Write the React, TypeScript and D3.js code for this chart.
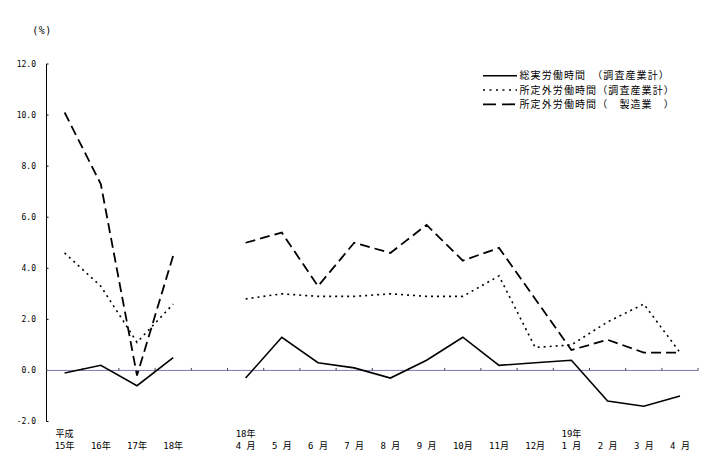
import React from "react";
import * as d3 from "d3";

const categories = ["15年", "16年", "17年", "18年", "", "4月", "5月", "6月", "7月", "8月", "9月", "10月", "11月", "12月", "1月", "2月", "3月", "4月"];
const labelTop = ["平成", "", "", "", "", "18年", "", "", "", "", "", "", "", "", "19年", "", "", ""];
const labelBottom = ["15年", "16年", "17年", "18年", "", "4 月", "5 月", "6 月", "7 月", "8 月", "9 月", "10月", "11月", "12月", "1 月", "2 月", "3 月", "4 月"];
const totalHours: (number | null)[] = [-0.1, 0.2, -0.6, 0.5, null, -0.3, 1.3, 0.3, 0.1, -0.3, 0.4, 1.3, 0.2, 0.3, 0.4, -1.2, -1.4, -1.0];
const overtimeAll: (number | null)[] = [4.6, 3.3, 1.1, 2.6, null, 2.8, 3.0, 2.9, 2.9, 3.0, 2.9, 2.9, 3.7, 0.9, 1.0, 1.9, 2.6, 0.7];
const overtimeMfg: (number | null)[] = [10.1, 7.3, -0.2, 4.5, null, 5.0, 5.4, 3.3, 5.0, 4.6, 5.7, 4.3, 4.8, 2.8, 0.8, 1.2, 0.7, 0.7];
const yTicks = [-2, 0, 2, 4, 6, 8, 10, 12];
const legendLabels = ["総実労働時間　（調査産業計）", "所定外労働時間（調査産業計）", "所定外労働時間（　製造業　）"];

const W = 719;
const H = 465;
const left = 46.5;
const right = 698.1;
const fontMono = "'DejaVu Sans Mono', 'Liberation Mono', 'Noto Sans CJK JP', monospace";
const fontCJK = "'Noto Sans CJK JP', 'DejaVu Sans', sans-serif";

export default function App() {
  const x = d3.scaleBand<number>().domain(categories.map((_, i) => i)).range([left, right]).paddingInner(0).paddingOuter(0);
  const y = d3.scaleLinear().domain([-2, 12]).range([421.5, 64]);
  const cx = (i: number) => (x(i) ?? 0) + x.bandwidth() / 2;
  const line = d3
    .line<number | null>()
    .defined((d) => d !== null)
    .x((_, i) => cx(i))
    .y((d) => y(d as number));

  const series = [
    { data: totalHours, dash: "", width: 1.6 },
    { data: overtimeAll, dash: "2,4", width: 1.6 },
    { data: overtimeMfg, dash: "10,5", width: 1.8 },
  ];
  const y0 = y(0);

  return (
    <svg width={W} height={H} style={{ position: "absolute", left: 0, top: 0, background: "#fff" }}>
      <text x={42} y={33.5} fontSize={10} letterSpacing={0.5} fontFamily={fontMono} textAnchor="middle" fill="#000">(%)</text>
      {/* y axis */}
      <line x1={left} x2={left} y1={y(12)} y2={y(-2)} stroke="#000" strokeWidth={1} />
      {yTicks.map((t) => (
        <g key={t}>
          <line x1={left} x2={left + 2} y1={y(t)} y2={y(t)} stroke="#000" />
          <text x={36} y={y(t)} dy="0.35em" fontSize={8} fontFamily={fontMono} textAnchor="end" fill="#000">
            {t.toFixed(1)}
          </text>
        </g>
      ))}
      {/* zero line */}
      <line x1={left} x2={right} y1={y0} y2={y0} stroke="#7c7cb0" strokeWidth={1} />
      {categories.map((_, i) => (
        <line key={i} x1={(x(i) ?? 0) + x.bandwidth()} x2={(x(i) ?? 0) + x.bandwidth()} y1={y0} y2={y0 - 2.5} stroke="#444" strokeWidth={1} />
      ))}
      {/* lines */}
      {series.map((s, k) => (
        <path key={k} d={line(s.data) ?? ""} fill="none" stroke="#000" strokeWidth={s.width} strokeDasharray={s.dash || undefined} />
      ))}
      {/* x labels */}
      {categories.map((_, i) => (
        <g key={i}>
          {labelTop[i] && (
            <text x={cx(i)} y={437} fontSize={9} fontFamily={fontMono} textAnchor="middle" fill="#000">{labelTop[i]}</text>
          )}
          {labelBottom[i] && (
            <text x={cx(i)} y={448.5} fontSize={9} fontFamily={fontMono} textAnchor="middle" fill="#000">{labelBottom[i]}</text>
          )}
        </g>
      ))}
      {/* legend */}
      {legendLabels.map((lab, i) => {
        const ly = 75.7 + i * 14.3;
        return (
          <g key={i}>
            <line x1={483} x2={517} y1={ly} y2={ly} stroke="#000" strokeWidth={series[i].width} strokeDasharray={i === 1 ? "2,4.5" : i === 2 ? "13,6" : undefined} />
            <text x={519.5} y={ly} dy="0.36em" fontSize={10} letterSpacing={1.1} fontFamily={fontCJK} fill="#000">{lab}</text>
          </g>
        );
      })}
    </svg>
  );
}
